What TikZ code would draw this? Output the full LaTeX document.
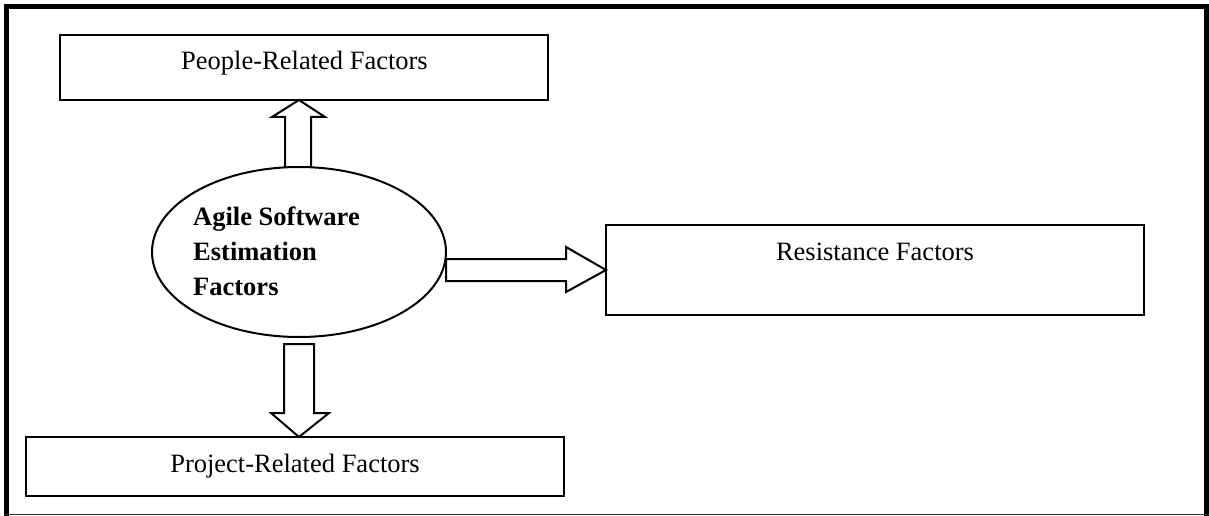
\documentclass[tikz,border=0pt]{standalone}
\usepackage{fontspec}
\setmainfont{Liberation Serif}
\usetikzlibrary{shapes.geometric,calc}
\begin{document}
\begin{tikzpicture}[x=1pt,y=-1pt,
  frame/.style={line width=5pt},
  box/.style={draw, line width=2pt, rectangle, inner sep=0pt, outer sep=0pt},
  oval/.style={draw, line width=2pt, ellipse, inner sep=0pt, outer sep=0pt},
  blockarrow/.style={draw, line width=2pt, line join=miter},
  txt/.style={inner sep=0pt, font=\fontsize{26.5pt}{35pt}\selectfont}
]
\useasboundingbox (0,0) rectangle (1209,516);

% outer frame
\draw[frame] (4,7) -- (1209,7);
\draw[frame] (6.5,4.5) -- (6.5,516);
\draw[frame] (1206.5,4.5) -- (1206.5,516);
\draw[line width=1.2pt, black!80] (4,514.5) -- (1209,514.5);

% boxes and central oval
\node[box, minimum width=488pt, minimum height=65pt] (people) at (304,67.5) {};
\node[box, minimum width=538pt, minimum height=90pt] (resist) at (875,270) {};
\node[box, minimum width=538pt, minimum height=59pt] (project) at (295,466.5) {};
\node[oval, minimum width=294pt, minimum height=170pt] (ell) at (299,252) {};

% labels
\node[txt, anchor=base] (peopletxt) at (304.5,70) {People-Related Factors};
\node[txt, anchor=base] (resisttxt) at (875,260) {Resistance Factors};
\node[txt, anchor=base] (projecttxt) at (295,472) {Project-Related Factors};
\node[txt, anchor=west, align=left, font=\fontsize{26.5pt}{35pt}\selectfont\bfseries] (elltxt) at (193,251)
  {Agile Software\\Estimation\\Factors};

% block arrows
\draw[blockarrow] let \p1=(ell.north), \p2=(people.south) in
  (\x1-14pt,\y1) -- (\x1-14pt,\y2-17pt) -- (\x1-27pt,\y2-17pt) -- (\x1,\y2)
  -- (\x1+26pt,\y2-17pt) -- (\x1+12pt,\y2-17pt) -- (\x1+12pt,\y1);
\draw[blockarrow] let \p1=(ell.south), \p2=(project.north) in
  (\x1-15pt,\y1-7pt) -- (\x1+15pt,\y1-7pt) -- (\x1+15pt,\y2+24pt) -- (\x1+30pt,\y2+24pt)
  -- (\x1,\y2) -- (\x1-28pt,\y2+24pt) -- (\x1-15pt,\y2+24pt) -- cycle;
\draw[blockarrow] let \p1=(ell.east), \p2=(resist.west) in
  (\x1,\y2+11pt) -- (\x2-40pt,\y2+11pt) -- (\x2-40pt,\y2+23pt) -- (\x2,\y2)
  -- (\x2-40pt,\y2-22pt) -- (\x2-40pt,\y2-11pt) -- (\x1,\y2-11pt) -- cycle;
\end{tikzpicture}
\end{document}
